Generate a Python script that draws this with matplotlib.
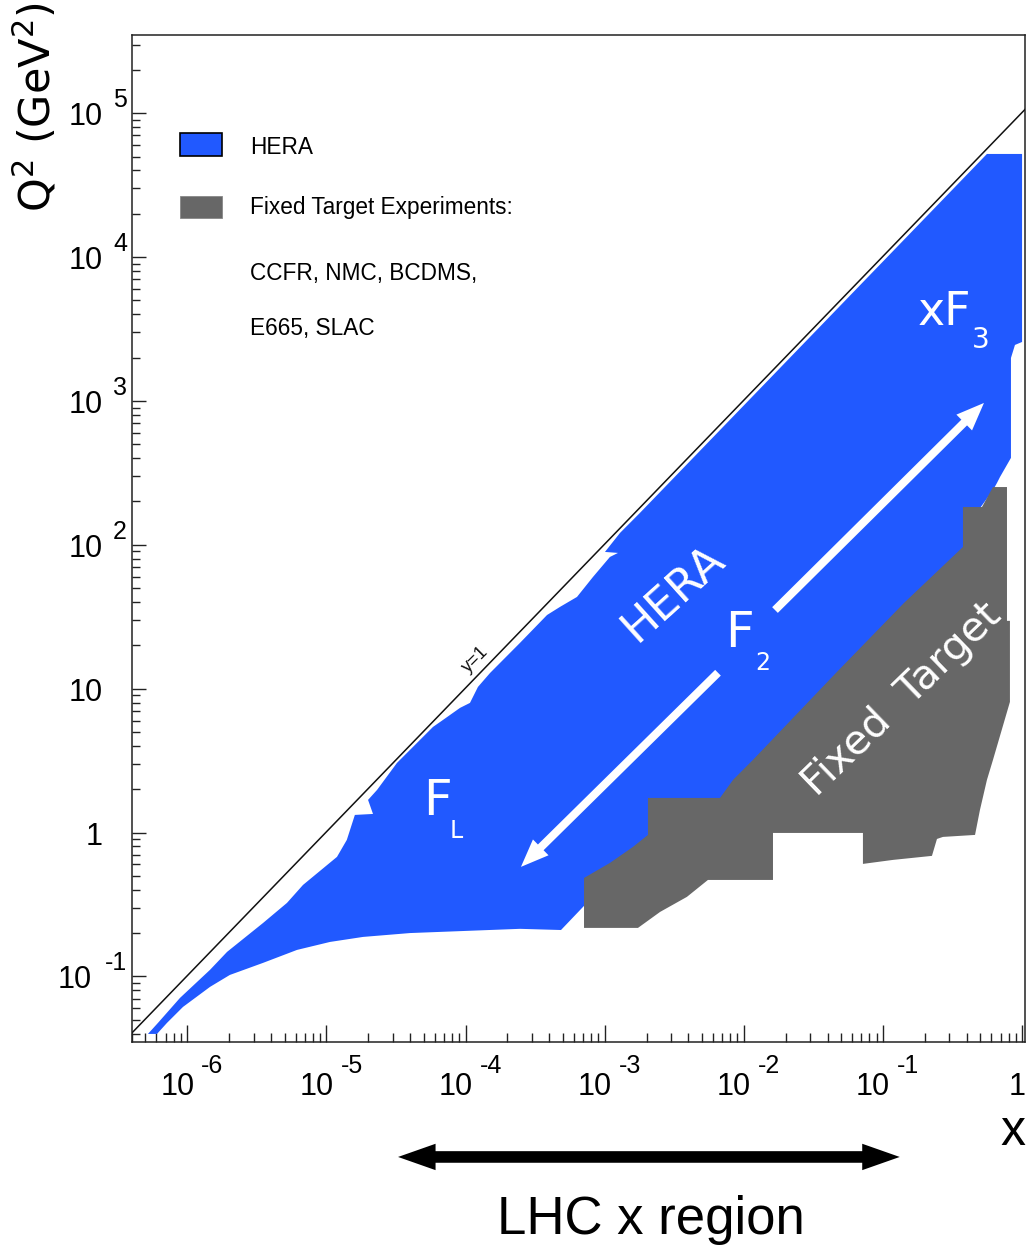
import matplotlib
matplotlib.use("Agg")
import matplotlib.pyplot as plt
from matplotlib.patches import Rectangle
from matplotlib.ticker import LogLocator, NullFormatter

# ---------------------------------------------------------------------------
# Kinematic coverage in the (x, Q^2) plane
# ---------------------------------------------------------------------------
# HERA measured region (outline, traced from the low-x tip)
hera_x = [5.21e-7, 6.15e-7, 8.85e-7, 1.455e-6, 1.93e-6, 3.50e-6, 5.20e-6, 6.78e-6,
          1.19e-5, 1.40e-5, 1.60e-5, 2.16e-5, 1.99e-5, 2.31e-5, 3.21e-5, 5.83e-5,
          6.88e-5, 9.12e-5, 1.075e-4, 1.227e-4, 1.50e-4, 2.46e-4, 3.85e-4, 4.77e-4,
          6.32e-4, 8.24e-4, 1.09e-3, 1.246e-3, 1.004e-3, 1.288e-3, 1.79e-3, 0.559,
          1.0, 1.0, 0.889, 0.832, 0.832, 0.694, 0.660, 0.618, 0.459, 0.422,
          7.95e-3, 2.5e-3, 9.25e-4, 7.1e-4, 4.85e-4, 2.46e-4, 3.98e-5, 1.83e-5,
          1.06e-5, 6.14e-6, 3.50e-6, 2.02e-6, 1.455e-6, 9.30e-7, 7.14e-7, 6.05e-7]
hera_q2 = [0.0398, 0.0475, 0.0708, 0.111, 0.148, 0.235, 0.324, 0.432,
           0.677, 0.888, 1.325, 1.346, 1.685, 1.977, 3.045, 5.42,
           6.06, 7.35, 7.96, 10.28, 12.86, 20.8, 32.5, 37.0,
           43.4, 59.8, 82.3, 87.8, 89.2, 120.9, 166.5, 5.21e4,
           5.21e4, 2570, 2450, 1990, 402, 296, 269, 240, 161, 78.5,
           1.685, 0.82, 0.468, 0.309, 0.210, 0.214, 0.200, 0.188,
           0.1735, 0.1527, 0.1241, 0.1023, 0.0845, 0.0613, 0.0475, 0.0398]

# Fixed-target experiments (CCFR, NMC, BCDMS, E665, SLAC) combined outline
ft_x = [0.618, 0.779, 0.779, 0.818, 0.818, 0.618, 0.559, 0.498, 0.459, 0.270,
        0.2445, 0.225, 0.118, 0.0718, 0.0718, 0.0162, 0.0162, 0.00552, 0.0039,
        0.0025, 0.001734, 0.00071, 0.00071, 0.00109, 0.001596, 0.002046,
        0.002046, 0.00674, 0.00836, 0.01164, 0.0467, 0.1416, 0.376, 0.376, 0.515]
ft_q2 = [252, 252, 29.6, 29.6, 8.09, 3.2, 2.32, 1.435, 0.962, 0.932,
         0.902, 0.688, 0.645, 0.605, 0.993, 0.993, 0.468, 0.468, 0.357,
         0.2805, 0.2172, 0.2172, 0.483, 0.6145, 0.794, 0.962,
         1.739, 1.739, 2.32, 3.2, 13.07, 39.4, 96.6, 183, 183]

# ep centre-of-mass energy squared at HERA (GeV^2): kinematic limit y = 1
s_hera = 1.012e5

# axis decades and legend text
x_decades = [-6, -5, -4, -3, -2, -1, 0]
q2_decades = [-1, 0, 1, 2, 3, 4, 5]
legend_labels = ["HERA", "Fixed Target Experiments:"]
legend_notes = ["CCFR, NMC, BCDMS,", "E665, SLAC"]
lhc_x_range = [3.27e-5, 0.132]

HERA_BLUE = "#2159ff"
FT_GRAY = "#676767"
NARROW = ["Liberation Sans", "DejaVu Sans"]
WIDE = ["DejaVu Sans"]

plt.rcParams["font.family"] = NARROW
plt.rcParams["mathtext.fontset"] = "dejavusans"

fig = plt.figure(figsize=(10.28, 12.48), dpi=100)
ax = fig.add_axes([0.1284, 0.1651, 0.8687, 0.8069])
ax.set_xscale("log")
ax.set_yscale("log")
xlim = (4e-7, 1.05)
ax.set_xlim(*xlim)
ax.set_ylim(0.035, 3.5e5)

# coverage areas
ax.fill(hera_x, hera_q2, color=HERA_BLUE, lw=0, zorder=2)
ax.fill(ft_x, ft_q2, color=FT_GRAY, lw=0, zorder=3)

# y = 1 kinematic limit
ax.plot(xlim, [s_hera * xlim[0], s_hera * xlim[1]], color="#111111", lw=1.1, zorder=4)
ax.text(1.17e-4, 15.9, "y=1", rotation=45, rotation_mode="anchor",
        ha="center", va="center", fontsize=13, color="#111111", zorder=5)

# ---------------------------------------------------------------------------
# Axes styling: inward ticks, left/bottom only
# ---------------------------------------------------------------------------
for sp in ax.spines.values():
    sp.set_linewidth(1.1)
    sp.set_color("#222222")
ax.xaxis.set_major_locator(LogLocator(base=10, numticks=20))
ax.xaxis.set_minor_locator(LogLocator(base=10, subs=range(2, 10), numticks=40))
ax.yaxis.set_major_locator(LogLocator(base=10, numticks=20))
ax.yaxis.set_minor_locator(LogLocator(base=10, subs=range(2, 10), numticks=40))
for axis in (ax.xaxis, ax.yaxis):
    axis.set_major_formatter(NullFormatter())
    axis.set_minor_formatter(NullFormatter())
ax.tick_params(axis="x", which="major", direction="in", length=12.2, width=1.0,
               color="#222222", top=False)
ax.tick_params(axis="x", which="minor", direction="in", length=6.5, width=1.0,
               color="#222222", top=False)
ax.tick_params(axis="y", which="major", direction="in", length=10, width=1.0,
               color="#222222", right=False)
ax.tick_params(axis="y", which="minor", direction="in", length=5.8, width=1.0,
               color="#222222", right=False)

# tick labels written as 10 with a raised exponent
for k in x_decades:
    xv = 10.0 ** k
    common = dict(xy=(xv, 0), xycoords=("data", "axes fraction"),
                  textcoords="offset pixels", va="baseline",
                  annotation_clip=False, color="black")
    if k == 0:
        ax.annotate("1", xytext=(4, -53), ha="right", fontsize=22, **common)
    else:
        ax.annotate("10", xytext=(-10, -53), ha="center", fontsize=22, **common)
        ax.annotate(str(k), xytext=(14, -31), ha="left", fontsize=18, **common)

for k in q2_decades:
    yv = 10.0 ** k
    common = dict(xy=(0, yv), xycoords=("axes fraction", "data"),
                  textcoords="offset pixels", va="baseline",
                  annotation_clip=False, color="black")
    if k in (0, 1):
        ax.annotate("1" if k == 0 else "10", xytext=(-29, -12), ha="right",
                    fontsize=22, **common)
    else:
        ax.annotate(str(k), xytext=(-5, 6), ha="right", fontsize=18, **common)
        ax.annotate("10", xytext=(-29 if k > 0 else -40, -12), ha="right",
                    fontsize=22, **common)

# axis titles
fig.text(0.035, 0.9139, r"Q$^{2}$ (GeV$^{2}$)", rotation=90, ha="center",
         va="center", fontsize=31, family=WIDE)
fig.text(1025 / 1028, 1 - 1145 / 1248, "x", ha="right", va="baseline",
         fontsize=36)

# ---------------------------------------------------------------------------
# Legend
# ---------------------------------------------------------------------------
ax.add_patch(Rectangle((0.0538, 0.8798), 0.047, 0.0228, transform=ax.transAxes,
                       facecolor=HERA_BLUE, edgecolor="black", lw=1.2, zorder=6))
ax.add_patch(Rectangle((0.0538, 0.8183), 0.047, 0.0218, transform=ax.transAxes,
                       facecolor=FT_GRAY, edgecolor="#888888", lw=0.6, zorder=6))
for label, yb in zip(legend_labels + legend_notes, [0.8818, 0.8222, 0.7567, 0.7021]):
    ax.text(0.1321, yb, label, transform=ax.transAxes, ha="left", va="baseline",
            fontsize=16.3, color="black", zorder=6)

# ---------------------------------------------------------------------------
# Annotations on the coverage map
# ---------------------------------------------------------------------------
white_txt = dict(color="white", family=WIDE, zorder=7)
ax.text(3.1e-3, 46.2, "HERA", rotation=42, rotation_mode="anchor",
        ha="center", va="center", fontsize=32, **white_txt)
ax.text(0.137, 8.35, "Fixed  Target", rotation=44, rotation_mode="anchor",
        ha="center", va="center", fontsize=29.5, **white_txt)
ax.text(7.32e-3, 19.5, "F", ha="left", va="baseline", fontsize=36, **white_txt)
ax.text(0.01202, 13.5, "2", ha="left", va="baseline", fontsize=17, **white_txt)
ax.text(4.94e-5, 1.325, "F", ha="left", va="baseline", fontsize=36, **white_txt)
ax.text(7.72e-5, 0.917, "L", ha="left", va="baseline", fontsize=17, **white_txt)
ax.text(0.1786, 3373, "xF", ha="left", va="baseline", fontsize=33, **white_txt)
ax.text(0.4365, 2333, "3", ha="left", va="baseline", fontsize=20, **white_txt)

arrow_w = dict(arrowstyle="simple,head_length=1.0,head_width=0.8,tail_width=0.29",
               mutation_scale=20, fc="white", ec="none", shrinkA=0, shrinkB=0)
ax.annotate("", xy=(0.532, 968), xytext=(0.01675, 35.2), arrowprops=arrow_w, zorder=7)
ax.annotate("", xy=(2.5e-4, 0.577), xytext=(6.52e-3, 12.9), arrowprops=arrow_w, zorder=7)

# LHC x range indicator below the axis: two arrows, each starting inside the
# opposite arrow head, so the shaft is continuous and ends under the heads
y_lhc = -0.1142
head = dict(arrowstyle="simple,head_length=1.35,head_width=0.95,tail_width=0.4",
            mutation_scale=20, fc="black", ec="none", shrinkA=0, shrinkB=0)
for start, end in ((0.075, lhc_x_range[0]), (5.8e-5, lhc_x_range[1])):
    ax.annotate("", xy=(end, y_lhc), xytext=(start, y_lhc),
                xycoords=("data", "axes fraction"), textcoords=("data", "axes fraction"),
                arrowprops=head, annotation_clip=False)
fig.text(651 / 1028, 1 - 1234 / 1248, "LHC x region", ha="center", va="baseline",
         fontsize=38)

fig.savefig("out.png", dpi=100, facecolor="white")
